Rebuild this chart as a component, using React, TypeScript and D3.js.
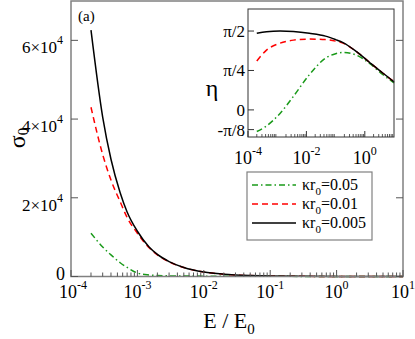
import React from "react";
import * as d3 from "d3";

// Main panel data
const mainE = [2e-4, 3e-4, 4e-4, 5.5e-4, 7e-4, 1e-3, 1.5e-3, 2e-3, 3e-3, 5e-3, 1e-2, 2e-2, 5e-2, 0.1, 1, 10];
const sigmaBlack = [62600, 40500, 29800, 21300, 16400, 11500, 7500, 5600, 3800, 2300, 1150, 580, 230, 110, 15, 0];
const sigmaRed = [43000, 31000, 24500, 19000, 15000, 11000, 7300, 5500, 3750, 2280, 1140, 575, 228, 110, 15, 0];
const sigmaGreen = [11000, 7500, 5500, 3500, 2300, 900, 400, 250, 160, 120, 90, 70, 50, 40, 20, 0];

// Inset data
const insetE = [2e-4, 4.3e-4, 1.25e-3, 3.6e-3, 1.26e-2, 4.5e-2, 0.1, 0.18, 0.52, 1.5, 4.2, 10];
const etaBlack = [1.525, 1.555, 1.57, 1.56, 1.525, 1.47, 1.40, 1.34, 1.16, 0.94, 0.73, 0.56];
const etaRed = [0.974, 1.19, 1.33, 1.39, 1.41, 1.40, 1.37, 1.33, 1.16, 0.94, 0.73, 0.56];
const etaGreen = [-0.43, -0.32, -0.07, 0.27, 0.70, 1.03, 1.12, 1.145, 1.09, 0.92, 0.70, 0.54];

const mainXTicks = [-4, -3, -2, -1, 0, 1];
const mainYTicks = [0, 2, 4, 6];
const insetXTicks = [-4, -2, 0];
const insetYTicks = [
  { v: -Math.PI / 8, label: "-π/8" },
  { v: 0, label: "0" },
  { v: Math.PI / 4, label: "π/4" },
  { v: Math.PI / 2, label: "π/2" },
];
const legendLabels = ["0.05", "0.01", "0.005"];

const COLORS = { green: "#1a9a1a", red: "#ff0000", black: "#000000" };
const FONT = "'Liberation Serif', 'Times New Roman', Times, 'DejaVu Serif', 'Noto Serif', serif";

export default function App() {
  const W = 415, H = 339;
  const x = d3.scaleLog().domain([1e-4, 10]).range([71, 403]);
  const y = d3.scaleLinear().domain([0, 70000]).range([276.5, 1]);
  const ix = d3.scaleLog().domain([1e-4, 10]).range([248, 394]);
  const iy = d3.scaleLinear().domain([-0.54, 2.01]).range([137, 9]);

  const mainLine = (ys: number[]) =>
    d3.line<number>().x((_, i) => x(mainE[i])).y((d) => y(d)).curve(d3.curveMonotoneX)(ys) || "";
  const insetLine = (ys: number[]) =>
    d3.line<number>().x((_, i) => ix(insetE[i])).y((d) => iy(d)).curve(d3.curveMonotoneX)(ys) || "";

  const minorTicks: number[] = [];
  for (let k = -4; k < 1; k++) for (let m = 2; m <= 9; m++) minorTicks.push(m * Math.pow(10, k));

  const styles = [
    { c: COLORS.green, dash: "6,3,1.5,3", d: sigmaGreen, e: etaGreen },
    { c: COLORS.red, dash: "6,4", d: sigmaRed, e: etaRed },
    { c: COLORS.black, dash: "", d: sigmaBlack, e: etaBlack },
  ];
  const tf = { fontFamily: FONT };

  return (
    <svg width={W} height={H} style={{ position: "absolute", left: 0, top: 0, background: "#fff", fontFamily: FONT }}>
      <rect x={0} y={0} width={W} height={H} fill="#fff" />
      {/* main curves */}
      {styles.map((s, i) => (
        <path key={i} d={mainLine(s.d)} fill="none" stroke={s.c} strokeWidth={1.5} strokeDasharray={s.dash} />
      ))}
      {/* main frame */}
      <rect x={71} y={1} width={332} height={275.5} fill="none" stroke="#808080" strokeWidth={1.5} />
      {/* x ticks */}
      {minorTicks.map((t, i) => (
        <line key={"mx" + i} x1={x(t)} x2={x(t)} y1={276.5} y2={272.5} stroke="#555" strokeWidth={1} />
      ))}
      {mainXTicks.map((k) => (
        <g key={"xt" + k}>
          <line x1={x(Math.pow(10, k))} x2={x(Math.pow(10, k))} y1={276.5} y2={270} stroke="#555" strokeWidth={1} />
          <text x={x(Math.pow(10, k)) + (k === -4 ? 2 : 0)} y={298} textAnchor="middle" fontSize={18} style={tf}>
            <tspan>10</tspan>
            <tspan dy={-9} fontSize={12}>{k}</tspan>
          </text>
        </g>
      ))}
      {/* y ticks */}
      {mainYTicks.map((v) => (
        <g key={"yt" + v}>
          <line x1={71} x2={78} y1={y(v * 1e4)} y2={y(v * 1e4)} stroke="#555" strokeWidth={1} />
          <line x1={403} x2={396} y1={y(v * 1e4)} y2={y(v * 1e4)} stroke="#555" strokeWidth={1} />
          {v === 0 ? (
            <text x={65} y={y(0) + 3} textAnchor="end" fontSize={18} style={tf}>0</text>
          ) : (
            <text x={63} y={y(v * 1e4) + 13} textAnchor="end" fontSize={17} style={tf}>
              <tspan>{v}×10</tspan>
              <tspan dy={-9} fontSize={12}>4</tspan>
            </text>
          )}
        </g>
      ))}
      {/* axis labels */}
      <text x={229} y={328} textAnchor="middle" fontSize={22} style={tf}>
        <tspan>E / E</tspan>
        <tspan dy={6} fontSize={15}>0</tspan>
      </text>
      <text transform="translate(25,138) rotate(-90)" textAnchor="middle" fontSize={24} style={tf}>
        <tspan>σ</tspan>
        <tspan dy={3} fontSize={15}>0</tspan>
      </text>
      <text x={78} y={21} fontSize={15} style={tf}>(a)</text>

      {/* inset */}
      <rect x={248} y={9} width={146} height={128} fill="#fff" stroke="none" />
      {styles.map((s, i) => (
        <path key={"i" + i} d={insetLine(s.e)} fill="none" stroke={s.c} strokeWidth={1.5} strokeDasharray={s.dash} />
      ))}
      <rect x={248} y={9} width={146} height={128} fill="none" stroke="#333" strokeWidth={1} />
      {minorTicks.map((t, i) => (
        <line key={"imx" + i} x1={ix(t)} x2={ix(t)} y1={137} y2={134} stroke="#333" strokeWidth={0.8} />
      ))}
      {insetXTicks.map((k) => (
        <g key={"ixt" + k}>
          <line x1={ix(Math.pow(10, k))} x2={ix(Math.pow(10, k))} y1={137} y2={131} stroke="#333" strokeWidth={1} />
          <text x={ix(Math.pow(10, k))} y={164} textAnchor="middle" fontSize={18} style={tf}>
            <tspan>10</tspan>
            <tspan dy={-9} fontSize={12}>{k}</tspan>
          </text>
        </g>
      ))}
      {insetYTicks.map((t) => (
        <g key={t.label}>
          <line x1={248} x2={254} y1={iy(t.v)} y2={iy(t.v)} stroke="#333" strokeWidth={1} />
          <text x={245} y={iy(t.v) + 6} textAnchor="end" fontSize={17} style={tf}>{t.label}</text>
        </g>
      ))}
      <text x={212} y={96} textAnchor="middle" fontSize={24} style={tf}>η</text>

      {/* legend */}
      <rect x={247} y={172} width={125} height={68} fill="#fff" stroke="#808080" strokeWidth={1.2} />
      {styles.map((s, i) => {
        const ly = 185 + i * 19;
        return (
          <g key={"lg" + i}>
            <line x1={252} x2={296} y1={ly} y2={ly} stroke={s.c} strokeWidth={1.5} strokeDasharray={s.dash} />
            <text x={302} y={ly + 5} fontSize={16} style={tf}>
              <tspan>κr</tspan>
              <tspan dy={5} fontSize={11}>0</tspan>
              <tspan dy={-5}>={legendLabels[i]}</tspan>
            </text>
          </g>
        );
      })}
    </svg>
  );
}
